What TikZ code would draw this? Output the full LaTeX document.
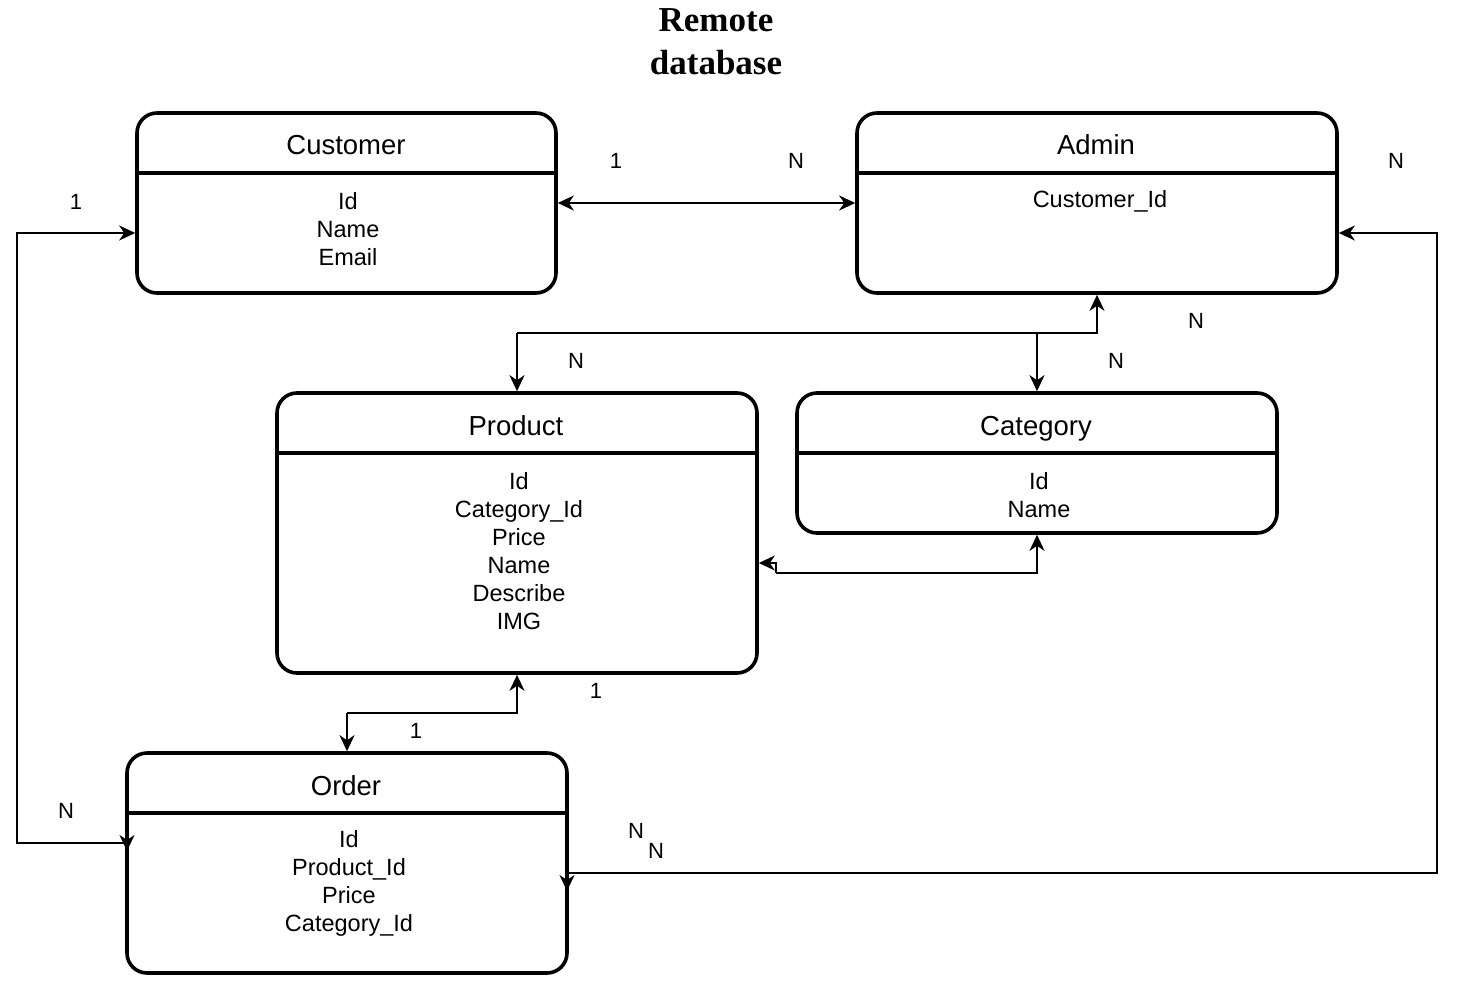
\documentclass[tikz,border=0pt]{standalone}
\usepackage{fontspec}
\setmainfont{Liberation Serif}
\setsansfont{Liberation Sans}
\usetikzlibrary{arrows.meta,calc}
\begin{document}
\begin{tikzpicture}[x=1pt,y=-1pt,
  >={Stealth[length=16pt,width=15pt,inset=5pt]},
  entity/.style={draw,line width=3.6pt,rounded corners=20pt,inner sep=0pt,outer sep=1.8pt},
  divider/.style={line width=3.6pt},
  hdr/.style={font=\sffamily\fontsize{27.5}{32}\selectfont,inner sep=0pt,anchor=base},
  attrs/.style={font=\sffamily\fontsize{23.5}{28}\selectfont,align=center,inner sep=0pt},
  lbl/.style={font=\sffamily\fontsize{22}{24}\selectfont,inner sep=0pt},
  link/.style={line width=2pt}
]
\useasboundingbox (0,0) rectangle (1458,992);

% title
\node[font=\bfseries\fontsize{35}{43}\selectfont,align=center,inner sep=0pt] (title) at (716,42) {Remote\\database};

% entities
\node[entity,minimum width=419pt,minimum height=180pt] (cust) at (346.5,203) {};
\node[entity,minimum width=480pt,minimum height=180pt] (admin) at (1097,203) {};
\node[entity,minimum width=480pt,minimum height=280pt] (prod) at (517,533) {};
\node[entity,minimum width=480pt,minimum height=140pt] (cat) at (1037,463) {};
\node[entity,minimum width=440pt,minimum height=220pt] (order) at (347,863) {};

% header dividers
\draw[divider] (137,173) -- (556,173);
\draw[divider] (857,173) -- (1337,173);
\draw[divider] (277,453) -- (757,453);
\draw[divider] (797,453) -- (1277,453);
\draw[divider] (127,813) -- (567,813);

% headers
\node[hdr] (custH) at (346,155) {Customer};
\node[hdr] (adminH) at (1096,155) {Admin};
\node[hdr] (prodH) at (516,435) {Product};
\node[hdr] (catH) at (1036,435) {Category};
\node[hdr] (orderH) at (346,795) {Order};

% attributes
\node[attrs] (custA) at (348,229) {Id\\Name\\Email};
\node[attrs] (adminA) at (1100,201) {Customer\_Id};
\node[attrs] (prodA) at (519,551) {Id\\Category\_Id\\Price\\Name\\Describe\\IMG};
\node[attrs] (catA) at (1039,495) {Id\\Name};
\node[attrs] (orderA) at (349,883) {Id\\Product\_Id\\Price\\Category\_Id};

% bend points
\coordinate (lA) at (17,843);
\coordinate (lB) at (17,233);
\coordinate (rA) at (1437,873);
\coordinate (rB) at (1437,233);
\coordinate (oL) at (127,843);
\coordinate (oR) at (567,873);
\coordinate (hub) at (1097,333);
\coordinate (hubP) at (517,333);
\coordinate (hubC) at (1037,333);
\coordinate (pcA) at (1037,573);
\coordinate (pcB) at (776,573);
\coordinate (pcC) at (776,563);
\coordinate (poA) at (517,713);
\coordinate (poB) at (347,713);

% Customer -- Admin
\draw[link,<->] (cust.east) -- (admin.west);

% Order -- Customer
\draw[link,->] (oL) -- (lA) -- (lB) -- (cust.west |- lB);
\draw[link,->] ($(oL)+(0,-9)$) -- ($(oL)+(0,8)$);

% Order -- Admin
\draw[link,->] (oR) -- (rA) -- (rB) -- (admin.east |- rB);
\draw[link,->] (oR) -- ($(oR)+(0,18)$);

% Admin -- Product / Category
\draw[link,->] (hubP) -- (hub) -- (admin.south);
\draw[link,->] (hubP) -- (prod.north);
\draw[link,->] (hubC) -- (cat.north);

% Category -- Product
\draw[link,->] (pcB) -- (pcA) -- (cat.south);
\draw[link,->] (pcB) -- (pcC) -- (prod.east |- pcC);

% Product -- Order
\draw[link,->] (poB) -- (poA) -- (prod.south);
\draw[link,->] (poB) -- (order.north);

% cardinalities
\node[lbl] (c1) at (616,161) {1};
\node[lbl] (c2) at (796,161) {N};
\node[lbl] (c3) at (76,202) {1};
\node[lbl] (c4) at (1396,161) {N};
\node[lbl] (c5) at (1196,321) {N};
\node[lbl] (c6) at (576,361) {N};
\node[lbl] (c7) at (1116,361) {N};
\node[lbl] (c8) at (596,691) {1};
\node[lbl] (c9) at (416,731) {1};
\node[lbl] (c10) at (66,811) {N};
\node[lbl] (c11) at (636,831) {N};
\node[lbl] (c12) at (656,851) {N};
\end{tikzpicture}
\end{document}
